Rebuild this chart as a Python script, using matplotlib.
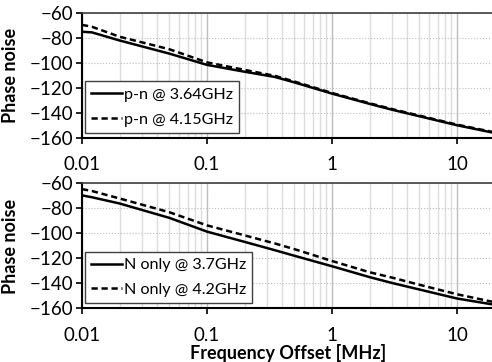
import numpy as np
import matplotlib
matplotlib.use("Agg")
import matplotlib.pyplot as plt
from matplotlib.ticker import FixedLocator, NullFormatter

plt.rcParams['font.family'] = ['Lato', 'DejaVu Sans']

# frequency offset [MHz]
freq = [0.01, 0.012, 0.02, 0.05, 0.1, 0.2, 0.35, 0.5, 1, 2, 3, 5, 10, 20]

# top panel: p-n
pn_364 = [-75, -75.5, -82, -92.5, -101.5, -107, -111.2, -115.5, -124.5, -132.7, -137.3, -142.6, -149.8, -156]
pn_415 = [-69.5, -71, -79, -89, -99.5, -105.5, -110.3, -114.8, -124, -132.2, -136.8, -142.1, -149.3, -155.5]

# bottom panel: N only
n_37 = [-69.5, -71, -76, -87.5, -98.5, -106.7, -113.4, -117.8, -126.2, -134.9, -139.5, -144.8, -152, -157]
n_42 = [-64.5, -66, -72, -83, -93.5, -101.5, -108, -112.5, -122, -131, -135.2, -141, -148.6, -155]

yticks = [-160, -140, -120, -100, -80, -60]
xticks = [0.01, 0.1, 1, 10]
xticklabels = ['0.01', '0.1', '1', '10']

fig = plt.figure(figsize=(4.92, 3.62), dpi=100)
ax1 = fig.add_axes([0.1667, 0.6188, 0.8386, 0.3453])
ax2 = fig.add_axes([0.1667, 0.1478, 0.8386, 0.3453])

panels = [
    (ax1, pn_364, pn_415, 'p-n @ 3.64GHz', 'p-n @ 4.15GHz'),
    (ax2, n_37, n_42, 'N only @ 3.7GHz', 'N only @ 4.2GHz'),
]

minor = [m * 10.0 ** e for e in range(-2, 2) for m in range(2, 10)]

for ax, s1, s2, l1, l2 in panels:
    ax.set_xscale('log')
    ax.set_xlim(0.01, 20)
    ax.set_ylim(-160, -60)
    ax.xaxis.set_major_locator(FixedLocator(xticks))
    ax.set_xticklabels(xticklabels)
    ax.xaxis.set_minor_locator(FixedLocator(minor))
    ax.xaxis.set_minor_formatter(NullFormatter())
    ax.set_yticks(yticks)
    ax.grid(True, which='major', axis='x', color='#bdbdbd', lw=1.0)
    ax.grid(True, which='minor', axis='x', color='#dcdcdc', lw=1.0)
    ax.grid(True, which='major', axis='y', color='#bdbdbd', lw=0.8, ls=':')
    ax.set_axisbelow(True)
    ax.plot(freq, s1, color='black', lw=1.8, ls='-', label=l1)
    ax.plot(freq, s2, color='black', lw=1.8, ls=(0, (2.5, 1.5)), label=l2)
    ax.tick_params(axis='both', which='major', labelsize=13.5, length=4, width=1.2, direction='out')
    ax.tick_params(axis='x', which='minor', length=0)
    ax.tick_params(axis='x', pad=9)
    ax.tick_params(axis='y', pad=2)
    for side in ['left', 'bottom']:
        ax.spines[side].set_linewidth(1.5)
    ax.spines['top'].set_color('#404040')
    ax.spines['top'].set_linewidth(1.2)
    ax.spines['right'].set_visible(False)
    ax.set_ylabel('Phase noise', fontsize=13, fontweight='bold')
    ax.yaxis.set_label_coords(-0.152, 0.5)
    leg = ax.legend(loc='lower left', bbox_to_anchor=(0.007, 0.04), fontsize=11.6,
                    handlelength=1.9, handletextpad=0.1, labelspacing=0.65,
                    borderaxespad=0, fancybox=False, framealpha=1)
    leg.get_frame().set_edgecolor('#404040')
    leg.get_frame().set_linewidth(1.0)

ax2.set_xlabel('Frequency Offset [MHz]', fontsize=13, fontweight='bold', labelpad=0)

fig.savefig('out.png', dpi=100)
